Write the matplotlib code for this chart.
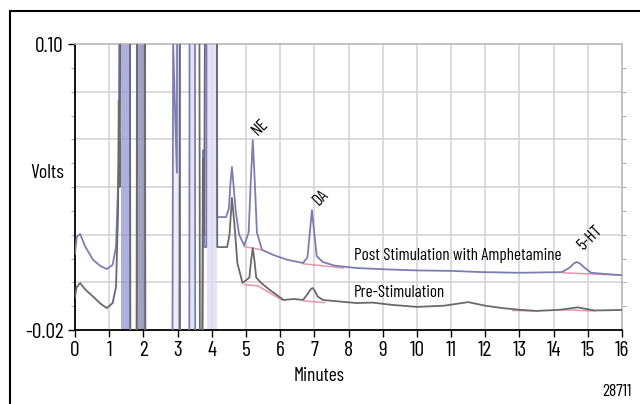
import matplotlib
matplotlib.use("Agg")
import matplotlib.pyplot as plt
from matplotlib.lines import Line2D
from matplotlib.ticker import MultipleLocator
from matplotlib import font_manager as fm

_avail = {f.name for f in fm.fontManager.ttflist}
_cands = ['Barlow Condensed', 'Roboto Condensed', 'Archivo Narrow', 'PT Sans Narrow', 'Liberation Sans Narrow',
          'Open Sans Condensed', 'IBM Plex Sans Condensed', 'Liberation Sans']
_font = next((c for c in _cands if c in _avail), 'DejaVu Sans')
plt.rcParams['font.family'] = [_font, 'DejaVu Sans']

# ---- data ----
post_t = [0.0, 0.05, 0.15, 0.3, 0.53, 0.75, 0.93, 1.1, 1.2, 1.28, 1.34, 1.60, 1.62, 1.80, 1.82,
          2.04, 2.06, 2.84, 2.87, 2.98, 3.0, 3.05, 3.08, 3.34, 3.36, 3.50, 3.52, 3.72, 3.75, 3.78,
          3.84, 3.86, 4.14, 4.16, 4.42, 4.5, 4.55, 4.59, 4.63, 4.7, 4.8, 4.95, 5.08, 5.14, 5.2, 5.26,
          5.32, 5.47, 5.8, 6.2, 6.67, 6.8, 6.87, 6.93, 6.99, 7.07, 7.25, 7.6, 8.25, 9.0, 10.0, 11.0,
          11.9, 13.0, 14.24, 14.45, 14.6, 14.68, 14.76, 14.9, 15.1, 15.5, 16.0]
post_v = [0.012, 0.019, 0.0203, 0.015, 0.0094, 0.0068, 0.0056, 0.0073, 0.015, 0.05, 0.30, 0.30, -0.10, -0.10, 0.30,
          0.30, -0.10, -0.10, 0.10, 0.046, 0.30, 0.30, -0.10, -0.10, 0.30, 0.30, -0.10, -0.10, 0.0555, 0.0148,
          0.0148, 0.30, 0.30, 0.0274, 0.0274, 0.031, 0.042, 0.0484, 0.042, 0.03, 0.02, 0.0155, 0.021, 0.042, 0.0597, 0.042,
          0.021, 0.0136, 0.0115, 0.0095, 0.0081, 0.0105, 0.021, 0.0303, 0.022, 0.011, 0.0085, 0.007, 0.006, 0.0055, 0.005, 0.0048,
          0.0043, 0.004, 0.0043, 0.006, 0.008, 0.0085, 0.008, 0.0062, 0.004, 0.0035, 0.003]

pre_t = [0.0, 0.05, 0.15, 0.3, 0.53, 0.75, 0.93, 1.1, 1.2, 1.26, 1.28, 1.31, 1.36, 1.60, 1.62, 1.80, 1.83,
         2.03, 2.06, 3.05, 3.08, 3.62, 3.66, 3.70, 3.74, 3.78, 3.84, 4.13, 4.16, 4.45, 4.52, 4.59, 4.66,
         4.75, 4.9, 5.1, 5.15, 5.2, 5.25, 5.3, 5.45, 5.7, 6.1, 6.4, 6.67, 6.8, 6.9, 6.95, 7.0, 7.1, 7.25,
         7.7, 8.25, 8.7, 9.3, 10.0, 10.8, 11.5, 12.0, 12.5, 13.0, 13.5, 14.2, 14.7, 15.2, 16.0]
pre_v = [-0.006, -0.002, -0.0003, -0.003, -0.006, -0.009, -0.0108, -0.0087, -0.002, 0.03, 0.076, 0.04, 0.30, 0.30, -0.10, -0.10, 0.30,
         0.30, -0.10, -0.10, 0.30, 0.30, -0.10, -0.10, 0.052, 0.02, 0.30, 0.30, 0.0148, 0.0148, 0.02, 0.0354, 0.025,
         0.008, -0.0003, 0.002, 0.009, 0.0144, 0.009, 0.002, -0.0003, -0.0032, -0.0074, -0.007, -0.0074, -0.005, -0.0028, -0.0024, -0.0032, -0.006, -0.0074,
         -0.008, -0.0087, -0.0085, -0.0095, -0.0103, -0.0098, -0.0083, -0.0098, -0.0108, -0.0115, -0.012, -0.0115, -0.0105, -0.0118, -0.0116]

# shaded off-scale bands (start, end, colour)
band_start = [1.34, 1.80, 2.87, 3.36, 3.86]
band_end = [1.60, 2.04, 3.07, 3.50, 4.14]
band_color = ['#9c9cd8', '#8c8cb4', '#ececf8', '#dcdcf2', '#dedef4']

# integration baselines (t0, v0, t1, v1)
post_base = [(4.95, 0.0150, 5.47, 0.0136), (6.67, 0.0078, 7.85, 0.0060), (14.27, 0.0040, 16.0, 0.0030)]
pre_base = [(4.97, -0.0010, 5.35, -0.0015), (5.35, -0.0015, 6.05, -0.0074), (6.7, -0.0078, 7.3, -0.0085),
            (12.8, -0.0118, 13.4, -0.0120), (14.2, -0.0115, 15.2, -0.0120)]

x_ticks = list(range(0, 17))
y_ticks = [-0.02, 0.10]
y_tick_labels = ['-0.02', '0.10']

labels = [("NE", 5.41, 0.0652), ("DA", 7.2, 0.0358), ("5-HT", 15.05, 0.0186)]

# ---- figure ----
fig = plt.figure(figsize=(6.4, 4.04), dpi=100)
ax = fig.add_axes([75/640, 1-330/404, (622-75)/640, (330-44)/404])

# grid
for t in x_ticks[1:-1]:
    ax.axvline(t, color='#d6d6d6', lw=1.2, zorder=0)
for yv in [0.0, 0.02, 0.04, 0.06, 0.08]:
    ax.axhline(yv, color='#d6d6d6', lw=1.2, zorder=0)

for s, e, c in zip(band_start, band_end, band_color):
    ax.axvspan(s, e, color=c, alpha=0.8, lw=0, zorder=1)

ax.plot(post_t, post_v, color='#7c7eb2', lw=1.3, zorder=3)
ax.plot(pre_t, pre_v, color='#6a6a6e', lw=1.3, zorder=3)

for t0, v0, t1, v1 in post_base + pre_base:
    ax.plot([t0, t1], [v0, v1], color='#e87a98', lw=1.1, alpha=0.8, zorder=2)

ax.set_xlim(0, 16)
ax.set_ylim(-0.02, 0.10)
ax.set_xticks(x_ticks)
ax.set_xticklabels([str(t) for t in x_ticks])
ax.set_yticks(y_ticks)
ax.set_yticklabels(y_tick_labels)
ax.yaxis.set_minor_locator(MultipleLocator(0.01))
ax.tick_params(axis='both', which='major', labelsize=15.5, length=5, width=1, color='black', pad=3)
ax.tick_params(axis='y', which='minor', length=3, color='#999999', right=True)

for side in ['left', 'bottom']:
    ax.spines[side].set_color('black')
    ax.spines[side].set_linewidth(1.3)
for side in ['top', 'right']:
    ax.spines[side].set_color('#b8b8b8')
    ax.spines[side].set_linewidth(1.2)

ax.text(8.16, 0.0112, "Post Stimulation with Amphetamine", fontsize=12.3, va='center', ha='left')
ax.text(8.16, -0.0043, "Pre-Stimulation", fontsize=12.3, va='center', ha='left')
for s, x, y in labels:
    ax.text(x, y, s, rotation=45, fontsize=12.5, ha='center', va='center')

fig.text(47/640, 1-173/404, "Volts", fontsize=14.5, ha='center', va='center')
fig.text(319/640, 1-376/404, "Minutes", fontsize=14, ha='center', va='center')
fig.text(632/640, 1-391/404, "28711", fontsize=12.5, ha='right', va='center')

# outer frame (left and top)
fig.add_artist(Line2D([10/640, 10/640], [0, 1-11/404], transform=fig.transFigure, color='black', lw=1.5))
fig.add_artist(Line2D([10/640, 1], [1-11/404, 1-11/404], transform=fig.transFigure, color='black', lw=1.5))

fig.savefig("out.png", dpi=100)
